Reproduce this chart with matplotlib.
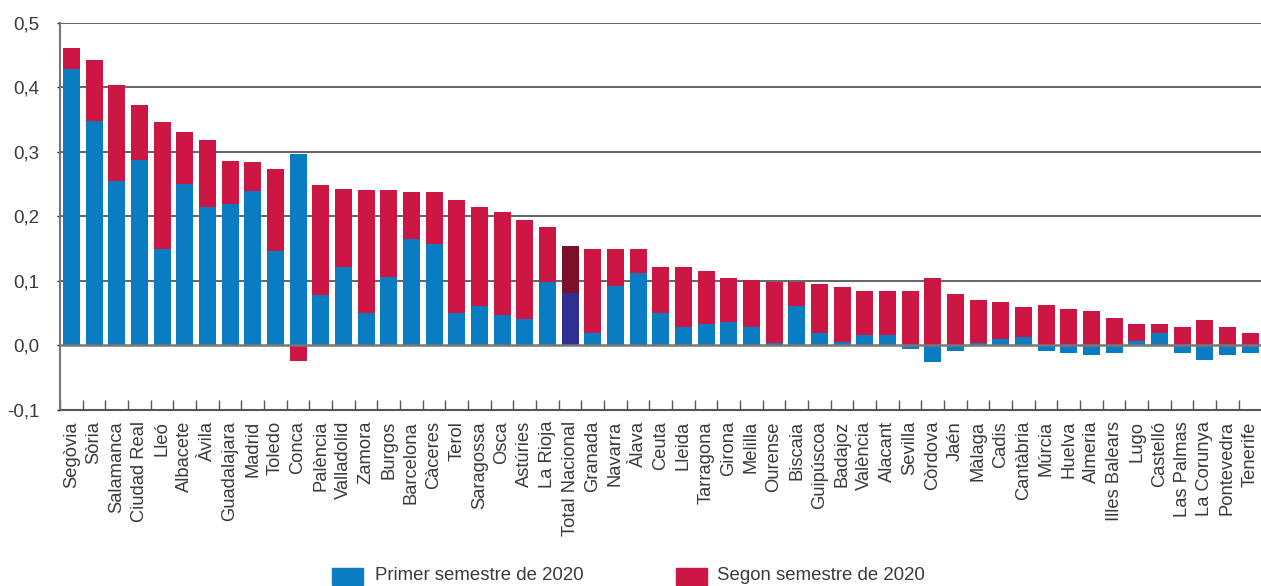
import numpy as np
import matplotlib
matplotlib.use('Agg')
import matplotlib.pyplot as plt
from matplotlib.patches import Rectangle
from matplotlib.ticker import FuncFormatter, MultipleLocator

plt.rcParams['font.family'] = ['Liberation Sans', 'DejaVu Sans']

provinces = ['Segòvia', 'Sòria', 'Salamanca', 'Ciudad Real', 'Lleó', 'Albacete', 'Àvila',
             'Guadalajara', 'Madrid', 'Toledo', 'Conca', 'Palència', 'Valladolid', 'Zamora',
             'Burgos', 'Barcelona', 'Càceres', 'Terol', 'Saragossa', 'Osca', 'Astúries',
             'La Rioja', 'Total Nacional', 'Granada', 'Navarra', 'Àlava', 'Ceuta', 'Lleida',
             'Tarragona', 'Girona', 'Melilla', 'Ourense', 'Biscaia', 'Guipúscoa', 'Badajoz',
             'València', 'Alacant', 'Sevilla', 'Còrdova', 'Jaén', 'Màlaga', 'Cadis',
             'Cantàbria', 'Múrcia', 'Huelva', 'Almeria', 'Illes Balears', 'Lugo', 'Castelló',
             'Las Palmas', 'La Corunya', 'Pontevedra', 'Tenerife']

# first semester contribution
first_half = [0.428, 0.348, 0.255, 0.288, 0.150, 0.251, 0.214,
              0.220, 0.240, 0.146, 0.297, 0.078, 0.122, 0.050,
              0.106, 0.165, 0.158, 0.051, 0.062, 0.047, 0.041,
              0.098, 0.082, 0.020, 0.093, 0.113, 0.051, 0.029,
              0.033, 0.036, 0.029, 0.004, 0.062, 0.020, 0.005,
              0.016, 0.016, -0.005, -0.025, -0.008, 0.004, 0.010,
              0.013, -0.008, -0.011, -0.015, -0.011, 0.007, 0.019,
              -0.011, -0.022, -0.015, -0.012]

# second semester contribution
second_half = [0.033, 0.095, 0.149, 0.085, 0.197, 0.080, 0.105,
               0.066, 0.045, 0.128, -0.024, 0.171, 0.121, 0.191,
               0.135, 0.073, 0.080, 0.175, 0.153, 0.160, 0.154,
               0.085, 0.073, 0.130, 0.057, 0.037, 0.070, 0.092,
               0.082, 0.069, 0.073, 0.094, 0.036, 0.076, 0.086,
               0.069, 0.068, 0.085, 0.105, 0.080, 0.066, 0.057,
               0.046, 0.063, 0.057, 0.054, 0.043, 0.027, 0.015,
               0.029, 0.039, 0.028, 0.019]

blue = '#0A7CC1'
red = '#CC1744'
dark_blue = '#2E3192'
dark_red = '#7D0F2C'
text_color = '#3a3a3a'

b1 = np.array(first_half)
b2 = np.array(second_half)
x = np.arange(len(provinces))
bottom2 = np.where(b2 >= 0, np.maximum(b1, 0), np.minimum(b1, 0))

c1 = [dark_blue if p == 'Total Nacional' else blue for p in provinces]
c2 = [dark_red if p == 'Total Nacional' else red for p in provinces]

fig = plt.figure(figsize=(12.61, 5.86), dpi=100)
ax = fig.add_axes([60 / 1261, 176 / 586, 1201.5 / 1261, 387 / 586])

# grid
for yv in [0.1, 0.2, 0.3, 0.4, 0.5]:
    ax.axhline(yv, color='#3a3a3a', lw=1.1, zorder=0)

ax.bar(x, b1, 0.75, color=c1, zorder=2)
ax.bar(x, b2, 0.75, bottom=bottom2, color=c2, zorder=2)
ax.axhline(0, color='#777777', lw=1.8, zorder=3)

ax.set_xlim(-0.5, len(provinces) - 0.5)
ax.set_ylim(-0.1, 0.5)
ax.yaxis.set_major_locator(MultipleLocator(0.1))
ax.yaxis.set_major_formatter(FuncFormatter(lambda v, p: f'{v:.1f}'.replace('.', ',')))

ax.set_xticks(x)
ax.set_xticklabels(provinces, rotation=90, fontsize=13.2, color=text_color)
ax.set_xticks(np.arange(len(provinces) + 1) - 0.5, minor=True)
ax.tick_params(axis='x', which='major', length=0, pad=8)
ax.tick_params(axis='x', which='minor', direction='in', length=7, width=1, color='#555555')
ax.tick_params(axis='y', length=2, width=1, color='#222222', pad=13,
               labelsize=13.5, labelcolor=text_color)

for s in ['top', 'right']:
    ax.spines[s].set_visible(False)
ax.spines['left'].set_color('#777777')
ax.spines['left'].set_linewidth(1.5)
ax.spines['bottom'].set_color('#555555')
ax.spines['bottom'].set_linewidth(1.5)

# legend along the bottom edge
fig.patches.append(Rectangle((332 / 1261, 1 / 586), 31 / 1261, 17 / 586,
                             transform=fig.transFigure, color=blue))
fig.text(375 / 1261, 10 / 586, 'Primer semestre de 2020', fontsize=13.4, color=text_color,
         va='center')
fig.patches.append(Rectangle((676 / 1261, 1 / 586), 31 / 1261, 17 / 586,
                             transform=fig.transFigure, color=red))
fig.text(717 / 1261, 10 / 586, 'Segon semestre de 2020', fontsize=13.4, color=text_color,
         va='center')

fig.savefig('out.png', dpi=100)
